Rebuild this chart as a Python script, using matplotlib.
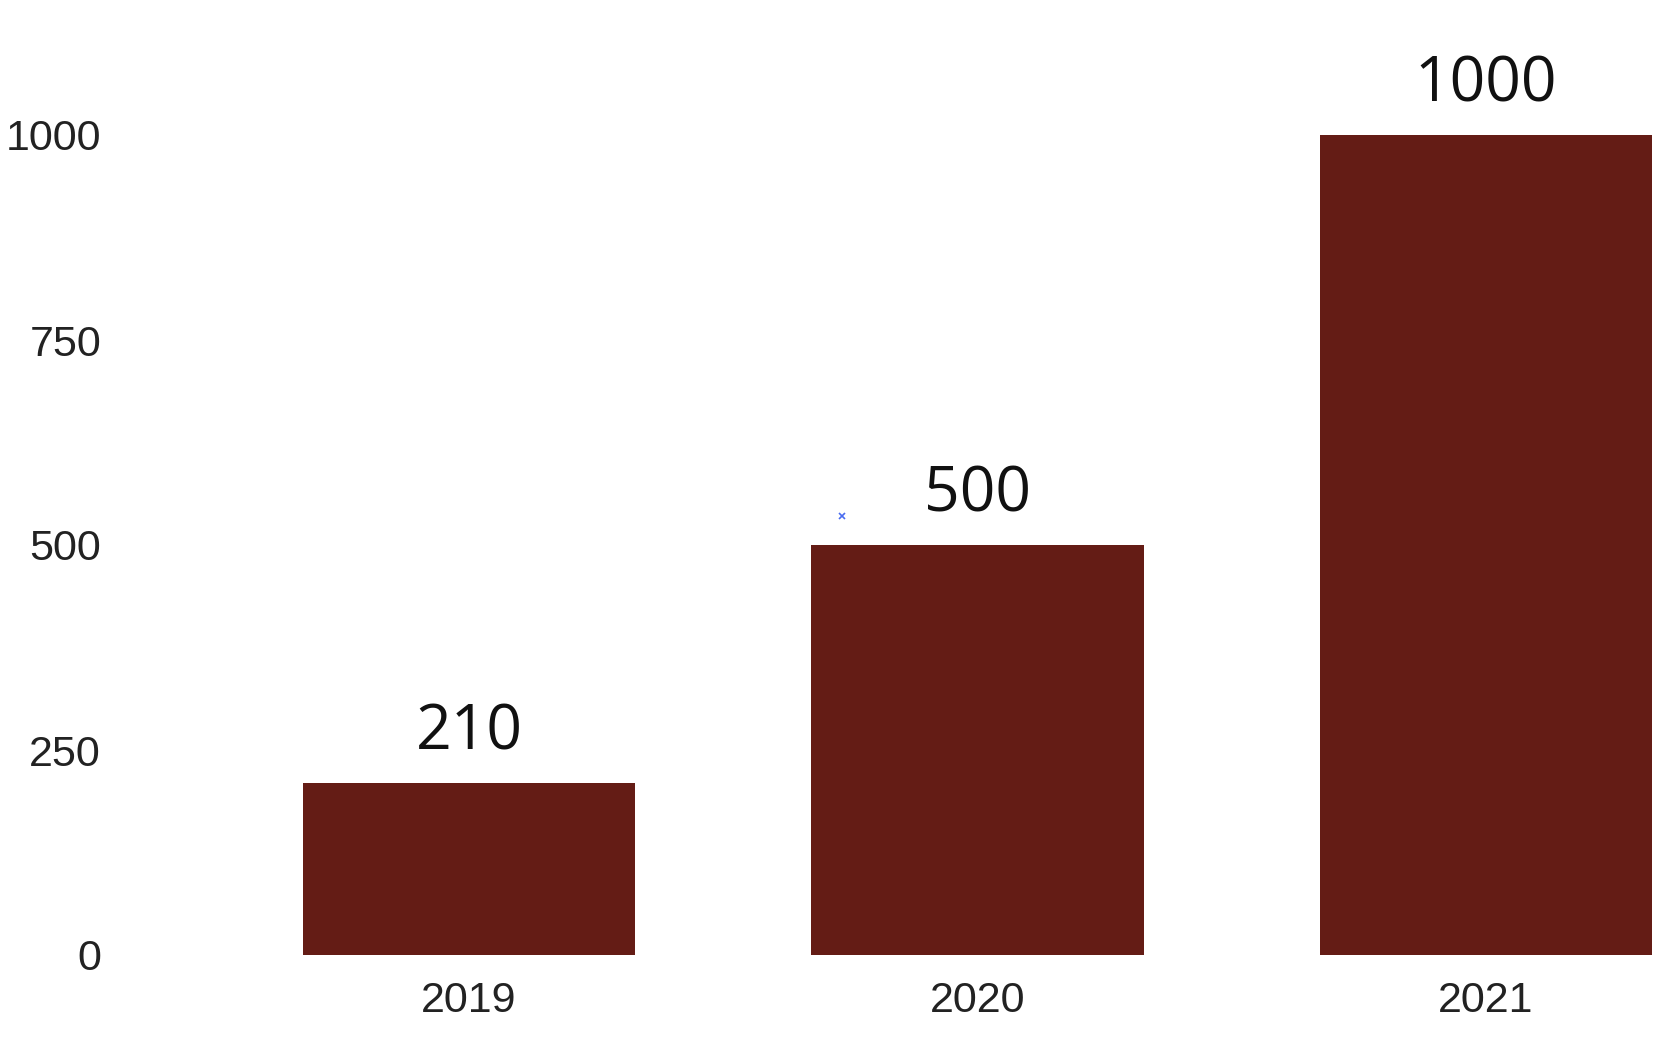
import matplotlib
matplotlib.use("Agg")
import matplotlib.pyplot as plt

# data
years = ['2019', '2020', '2021']
values = [210, 500, 1000]
yticks = [0, 250, 500, 750, 1000]

bar_color = '#641c15'

fig = plt.figure(figsize=(16.8, 10.46), dpi=100)
# axes placed in pixel terms: left 115, right 1660, bottom 955, top 53 (of 1680x1046)
ax = fig.add_axes([115 / 1680, 91 / 1046, 1545 / 1680, 902 / 1046])

x = range(len(years))
bars = ax.bar(x, values, width=0.654, color=bar_color)

# value labels above the bars
for xi, v in zip(x, values):
    ax.annotate(str(v), (xi, v), xytext=(0, 13), textcoords='offset points',
                ha='center', va='bottom', fontsize=45, family='Open Sans',
                color='#111111')

# the stray little blue cross near the 2020 bar
ax.plot([0.733], [535], marker='x', color='#4a6cf0', markersize=5, mew=1.2)

ax.set_xlim(-0.696, 2.342)
ax.set_ylim(0, 1100)
ax.set_xticks(list(x))
ax.set_xticklabels(years)
ax.set_yticks(yticks)
ax.set_yticklabels([str(t) for t in yticks])
ax.tick_params(axis='both', length=0, labelsize=31, colors='#222222')
ax.tick_params(axis='x', pad=19)
ax.tick_params(axis='y', pad=10)
for lbl in ax.get_xticklabels() + ax.get_yticklabels():
    lbl.set_family('Liberation Sans')

for s in ax.spines.values():
    s.set_visible(False)

fig.savefig('out.png', dpi=100)
